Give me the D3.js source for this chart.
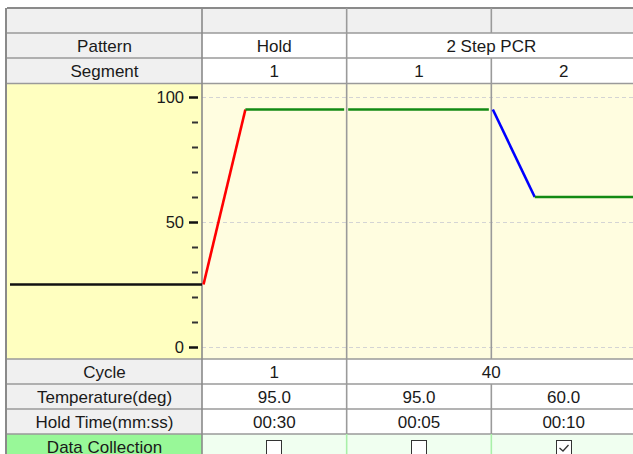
<!DOCTYPE html>
<html><head><meta charset="utf-8">
<script src="https://cdn.jsdelivr.net/npm/d3@7"></script>
<style>
html,body{margin:0;padding:0;background:#fff;}
svg{display:block;}
text{font-family:"Liberation Sans",Arial,sans-serif;font-size:17px;fill:#1a1a1a;}
</style></head>
<body>
<script>
// ---- data ----
const patterns = ["Hold", "2 Step PCR", "2 Step PCR"];
const segments = ["1", "1", "2"];
const cycles = ["1", "40", "40"];
const temperatures = [95.0, 95.0, 60.0];
const holdTimes = ["00:30", "00:05", "00:10"];
const dataCollection = [false, false, true];
const initialTemp = 25;
const yMajorTicks = [0, 50, 100];
const yMinorTicks = [10, 20, 30, 40, 60, 70, 80, 90];
const topRowLabels = ["Pattern", "Segment"];
const bottomRowLabels = ["Cycle", "Temperature(deg)", "Hold Time(mm:ss)", "Data Collection"];

// ---- layout ----
const W = 633, H = 454;
const leftX = 7, labelRight = 202, rightX = 636;
const topY = 8;
const chartTop = 84, chartBottom = 359;

const svg = d3.select("body").append("svg").attr("width", W).attr("height", H);

const x = d3.scaleLinear().domain([0, segments.length]).range([labelRight, rightX]);
const y = d3.scaleLinear().domain([0, 100]).range([347, 97]);

const gridCol = "#9a9a9a", headerBg = "#f0f0f0";

svg.append("rect").attr("x", leftX).attr("y", topY).attr("width", rightX - leftX).attr("height", 25).attr("fill", headerBg);

function labelCell(yy, h, fill) {
  svg.append("rect").attr("x", leftX).attr("y", yy).attr("width", labelRight - leftX).attr("height", h).attr("fill", fill);
}
labelCell(33, 50, headerBg);
labelCell(359, 75, headerBg);
labelCell(434, 25, "#98f898");
svg.append("rect").attr("x", labelRight).attr("y", 33).attr("width", rightX - labelRight).attr("height", 50).attr("fill", "#fff");
svg.append("rect").attr("x", labelRight).attr("y", 359).attr("width", rightX - labelRight).attr("height", 75).attr("fill", "#fff");
svg.append("rect").attr("x", labelRight).attr("y", 434).attr("width", rightX - labelRight).attr("height", 25).attr("fill", "#f0fff0");
svg.append("rect").attr("x", leftX).attr("y", chartTop).attr("width", labelRight - leftX).attr("height", chartBottom - chartTop).attr("fill", "#ffffc0");
svg.append("rect").attr("x", labelRight).attr("y", chartTop).attr("width", rightX - labelRight).attr("height", chartBottom - chartTop).attr("fill", "#fffde0");

svg.append("g").selectAll("line").data(yMajorTicks).join("line")
  .attr("x1", labelRight).attr("x2", rightX)
  .attr("y1", d => y(d) + 0.5).attr("y2", d => y(d) + 0.5)
  .attr("stroke", "#d4d4d4").attr("stroke-dasharray", "4,3");

const hLines = [33, 58, 83.5, 359, 384, 409, 434];
svg.append("g").selectAll("line").data(hLines).join("line")
  .attr("x1", leftX).attr("x2", rightX).attr("y1", d => d).attr("y2", d => d)
  .attr("stroke", gridCol).attr("stroke-width", 1.5);
svg.append("line").attr("x1", leftX).attr("x2", rightX).attr("y1", topY).attr("y2", topY)
  .attr("stroke", "#8a8a8a").attr("stroke-width", 2);
svg.append("line").attr("x1", leftX - 1).attr("x2", leftX - 1).attr("y1", topY).attr("y2", H)
  .attr("stroke", "#8a8a8a").attr("stroke-width", 2);

function vLine(xx, y1, y2, col) {
  svg.append("line").attr("x1", xx).attr("x2", xx).attr("y1", y1).attr("y2", y2)
    .attr("stroke", col || gridCol).attr("stroke-width", 1.6);
}
vLine(labelRight, topY, H, "#8a8a8a");
d3.range(1, segments.length).forEach(i => {
  const xx = x(i);
  vLine(xx, topY, 33);
  if (patterns[i] !== patterns[i - 1]) vLine(xx, 33, 58);
  vLine(xx, 58, 359);
  if (cycles[i] !== cycles[i - 1] || patterns[i] !== patterns[i - 1]) vLine(xx, 359, 384);
  vLine(xx, 384, 434);
  vLine(xx, 434, H, "#a8f0a8");
});

function txt(tx, ty, s, anchor) {
  svg.append("text").attr("x", tx).attr("y", ty).attr("text-anchor", anchor || "middle")
    .attr("dominant-baseline", "central").text(s);
}
const labelCx = (leftX + labelRight) / 2;
topRowLabels.forEach((l, i) => txt(labelCx, 46.5 + i * 25, l));
bottomRowLabels.forEach((l, i) => txt(labelCx, 372.5 + i * 25, l));

function groups(arr) {
  const g = [];
  arr.forEach((v, i) => {
    if (g.length && g[g.length - 1].v === v && patterns[i] === patterns[g[g.length - 1].s]) g[g.length - 1].e = i + 1;
    else g.push({ v, s: i, e: i + 1 });
  });
  return g;
}
groups(patterns).forEach(g => txt((x(g.s) + x(g.e)) / 2, 46.5, g.v));
segments.forEach((s, i) => txt((x(i) + x(i + 1)) / 2, 71.5, s));
groups(cycles).forEach(g => txt((x(g.s) + x(g.e)) / 2, 372.5, g.v));
temperatures.forEach((t, i) => txt((x(i) + x(i + 1)) / 2, 397.5, t.toFixed(1)));
holdTimes.forEach((t, i) => txt((x(i) + x(i + 1)) / 2, 422.5, t));

dataCollection.forEach((c, i) => {
  const cx = (x(i) + x(i + 1)) / 2;
  const g = svg.append("g").attr("transform", `translate(${Math.round(cx - 8)},${440})`);
  g.append("rect").attr("x", 0.5).attr("y", 0.5).attr("width", 15).attr("height", 15)
    .attr("fill", "#fff").attr("stroke", "#333").attr("stroke-width", 1);
  if (c) g.append("path").attr("d", "M3.5,8 L7,11 L12.5,5").attr("fill", "none").attr("stroke", "#333").attr("stroke-width", 1.3);
});

const axisMajor = d3.axisLeft(y).tickValues(yMajorTicks).tickSize(9).tickPadding(5);
const gA = svg.append("g").attr("transform", `translate(${labelRight - 4},0)`).call(axisMajor);
gA.select(".domain").remove();
gA.selectAll(".tick line").attr("stroke", "#111").attr("stroke-width", 2.5);
gA.selectAll(".tick text").style("font-size", "16.5px").attr("fill", "#1a1a1a").attr("font-family", "Liberation Sans, Arial, sans-serif");
const axisMinor = d3.axisLeft(y).tickValues(yMinorTicks).tickSize(6).tickFormat("");
const gM = svg.append("g").attr("transform", `translate(${labelRight - 4},0)`).call(axisMinor);
gM.select(".domain").remove();
gM.selectAll(".tick line").attr("stroke", "#333").attr("stroke-width", 2);

const rampFrac = 0.30;
const line = d3.line().x(d => d[0]).y(d => y(d[1]));
function seg(pts, col) {
  svg.append("path").attr("d", line(pts)).attr("fill", "none").attr("stroke", col)
    .attr("stroke-width", 2.6).attr("stroke-linecap", "butt");
}
seg([[leftX + 3, initialTemp], [labelRight, initialTemp]], "#111");
let prev = initialTemp;
temperatures.forEach((t, i) => {
  const x0 = x(i) + 1.5, x1 = x(i + 1) - 2.5;
  let hs = x0;
  if (t !== prev) {
    const xr = x(i) + (x(i + 1) - x(i)) * rampFrac;
    seg([[x0, prev], [xr, t]], t > prev ? "#ff0000" : "#0000ff");
    hs = xr;
  }
  seg([[hs, t], [x1, t]], "#138a13");
  prev = t;
});
</script>
</body></html>
